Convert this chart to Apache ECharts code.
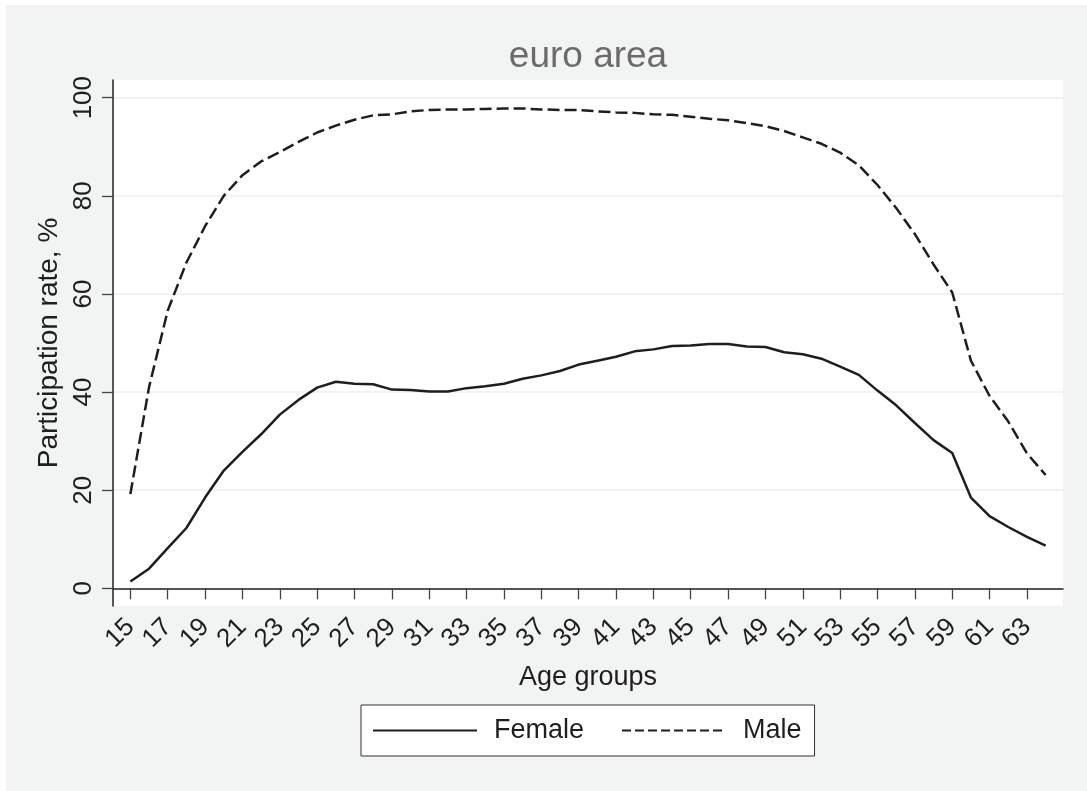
<!DOCTYPE html>
<html>
<head>
<meta charset="utf-8">
<title>euro area</title>
<script src="https://cdn.jsdelivr.net/npm/echarts@6/dist/echarts.min.js"></script>
<style>
  html, body { margin: 0; padding: 0; background: #fff; }
  #chart { width: 1087px; height: 791px; }
</style>
</head>
<body>
<div id="chart"></div>
<script>
// ages on the x axis
const ages = [15, 16, 17, 18, 19, 20, 21, 22, 23, 24,
  25, 26, 27, 28, 29, 30, 31, 32, 33, 34,
  35, 36, 37, 38, 39, 40, 41, 42, 43, 44,
  45, 46, 47, 48, 49, 50, 51, 52, 53, 54,
  55, 56, 57, 58, 59, 60, 61, 62, 63, 64]

// participation rate, %
const female = [1.4, 4.0, 8.2, 12.3, 18.5, 24.0, 27.8, 31.4, 35.4, 38.4,
  40.9, 42.1, 41.7, 41.6, 40.5, 40.4, 40.1, 40.1, 40.8, 41.2,
  41.7, 42.7, 43.4, 44.3, 45.6, 46.4, 47.2, 48.3, 48.7, 49.4,
  49.5, 49.8, 49.8, 49.3, 49.2, 48.1, 47.7, 46.8, 45.2, 43.5,
  40.3, 37.3, 33.7, 30.2, 27.6, 18.5, 14.7, 12.5, 10.5, 8.7]

const male = [19.2, 41.0, 56.6, 66.4, 73.8, 80.0, 84.2, 87.0, 88.9, 91.0,
  92.9, 94.3, 95.5, 96.4, 96.6, 97.2, 97.5, 97.6, 97.6, 97.7,
  97.8, 97.8, 97.6, 97.5, 97.5, 97.2, 97.0, 96.9, 96.6, 96.5,
  96.1, 95.7, 95.4, 94.8, 94.2, 93.2, 91.9, 90.6, 88.8, 86.2,
  82.2, 77.5, 72.2, 66.0, 60.3, 46.4, 39.2, 34.0, 27.5, 23.1]

// tick labels
const xTicks = [15, 17, 19, 21, 23, 25, 27, 29, 31, 33, 35, 37, 39,
  41, 43, 45, 47, 49, 51, 53, 55, 57, 59, 61, 63]
const yTicks = [0, 20, 40, 60, 80, 100]

const FONT = 'Liberation Sans, Arial, Helvetica, sans-serif'
const INK = '#1e1e1e'

const chart = echarts.init(document.getElementById('chart'), null, { renderer: 'canvas' })

const toPairs = (vals) => ages.map((a, i) => [a, vals[i]])

const option = {
  backgroundColor: '#fff',
  animation: false,
  graphic: [{
    type: 'rect',
    z: -100,
    silent: true,
    shape: { x: 6, y: 5, width: 1081, height: 786 },
    style: { fill: '#f2f3f3' }
  }],
  title: {
    text: 'euro area',
    left: 588,
    top: 38,
    padding: 0,
    textAlign: 'center',
    textStyle: { fontFamily: FONT, fontSize: 37, fontWeight: 'normal', color: '#6b6b6b' }
  },
  grid: {
    left: 113,
    right: 24,
    top: 80,
    bottom: 185,
    show: true,
    backgroundColor: '#fff',
    borderWidth: 0
  },
  xAxis: {
    type: 'value',
    min: 14.07,
    max: 64.93,
    name: 'Age groups',
    nameLocation: 'middle',
    nameGap: 58,
    nameTextStyle: { fontFamily: FONT, fontSize: 27, color: INK },
    axisLine: { lineStyle: { color: '#222', width: 1.5 } },
    axisTick: { customValues: xTicks, length: 11, lineStyle: { color: '#444', width: 1.3 } },
    axisLabel: {
      customValues: xTicks,
      rotate: 45,
      margin: 17,
      fontFamily: FONT,
      fontSize: 26,
      color: INK
    },
    splitLine: { show: false }
  },
  yAxis: {
    type: 'value',
    min: -3.6,
    max: 103.6,
    name: 'Participation rate, %',
    nameLocation: 'middle',
    nameGap: 41,
    nameTextStyle: { fontFamily: FONT, fontSize: 28, color: INK },
    axisLine: { show: true, lineStyle: { color: '#222', width: 1.5 } },
    axisTick: { show: true, customValues: yTicks, length: 11, lineStyle: { color: '#444', width: 1.3 } },
    axisLabel: {
      customValues: yTicks,
      rotate: 90,
      margin: 16,
      fontFamily: FONT,
      fontSize: 26,
      color: INK
    },
    splitLine: { show: true, lineStyle: { color: '#eeefef', width: 1.6 } }
  },
  legend: {
    left: 361,
    top: 705,
    orient: 'horizontal',
    padding: [12, 13, 12, 11],
    itemGap: 37,
    itemWidth: 104,
    itemHeight: 2,
    itemStyle: { opacity: 0 },
    backgroundColor: '#fff',
    borderColor: '#333',
    borderWidth: 1,
    borderRadius: 0,
    textStyle: { fontFamily: FONT, fontSize: 27, color: INK, padding: [0, 0, 0, 12] },
    data: [
      { name: 'Female' },
      { name: 'Male', lineStyle: { type: [9, 4] } }
    ]
  },
  series: [
    {
      name: 'Female',
      type: 'line',
      data: toPairs(female),
      symbol: 'none',
      lineStyle: { color: INK, width: 2.5 },
      itemStyle: { color: INK }
    },
    {
      name: 'Male',
      type: 'line',
      data: toPairs(male),
      symbol: 'none',
      lineStyle: { color: INK, width: 2.5, type: [12, 5] },
      itemStyle: { color: INK }
    }
  ]
}

chart.setOption(option)
</script>
</body>
</html>
